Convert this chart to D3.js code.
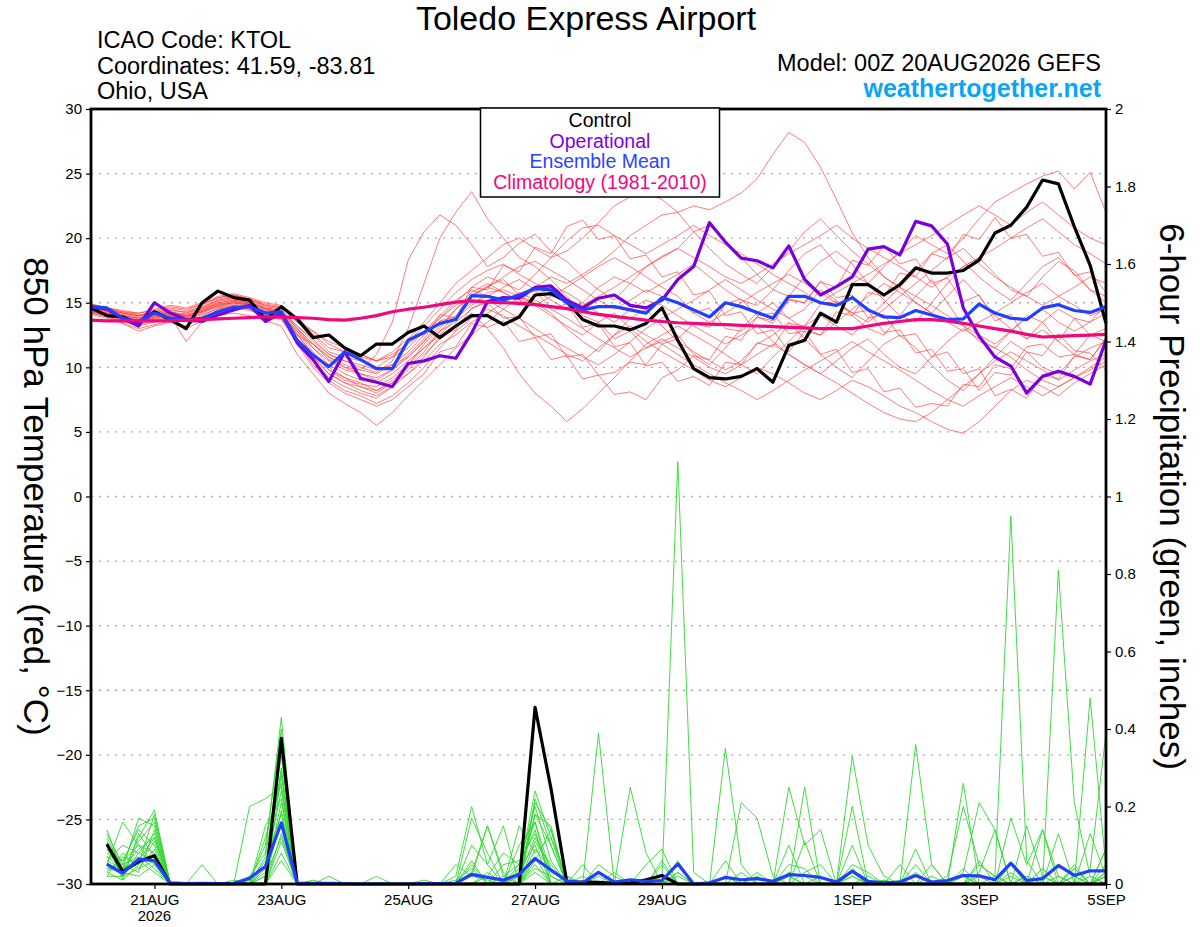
<!DOCTYPE html>
<html lang="en">
<head>
<meta charset="UTF-8">
<title>Toledo Express Airport</title>
<script src="https://d3js.org/d3.v7.min.js"></script>
<style>
  body { margin: 0; background: #fff; }
  svg { display: block; font-family: "Liberation Sans", Arial, sans-serif; }
  .tick text { font-size: 15px; fill: #000; }
</style>
</head>
<body>
<div id="chart"></div>
<script>
// forecast run: 00Z 20AUG2026, 6-hourly steps out to 384 h
const runStart = Date.UTC(2026, 7, 20, 0);
const runEnd = Date.UTC(2026, 8, 5, 0);

const dayTicks = ["2026-08-21", "2026-08-23", "2026-08-25", "2026-08-27", "2026-08-29", "2026-09-01", "2026-09-03", "2026-09-05"];
const dayLabels = ["21AUG", "23AUG", "25AUG", "27AUG", "29AUG", "1SEP", "3SEP", "5SEP"];
const tempTicks = [-30, -25, -20, -15, -10, -5, 0, 5, 10, 15, 20, 25, 30];
const precipTicks = [0, 0.2, 0.4, 0.6, 0.8, 1, 1.2, 1.4, 1.6, 1.8, 2];
const legendNames = ["Control", "Operational", "Ensemble Mean", "Climatology (1981-2010)"];

// 850 hPa temperature (degC), hours 0..384 every 6 h
const controlTemp = [14.6,14.0,13.9,13.4,14.3,13.7,13.0,15.0,15.9,15.4,15.2,13.7,14.7,13.75,12.3,12.5,11.5,10.9,11.8,11.8,12.7,13.2,12.3,13.2,14.0,14.0,13.3,13.9,15.6,15.7,15.1,13.7,13.2,13.2,12.9,13.4,14.6,12.1,9.9,9.2,9.1,9.3,9.9,8.85,11.7,12.1,14.2,13.5,16.4,16.4,15.6,16.4,17.7,17.3,17.3,17.5,18.3,20.4,21.0,22.4,24.5,24.2,20.9,17.9,13.4];
const operTemp = [14.7,14.5,13.8,13.2,15.0,14.2,13.7,13.55,14.05,14.45,14.8,13.55,14.2,11.9,10.6,8.9,11.2,9.15,8.85,8.5,10.3,10.5,10.9,10.7,12.65,15.1,15.4,15.35,16.2,16.3,15.2,14.6,15.35,15.6,14.8,14.6,15.2,16.8,17.8,21.2,19.7,18.45,18.25,17.7,19.4,16.8,15.6,16.25,17.0,19.15,19.35,18.7,21.3,20.95,19.55,14.6,12.4,10.8,10.1,8.0,9.3,9.7,9.3,8.7,12.1];
const meanTemp = [14.7,14.6,13.8,13.55,14.2,13.8,13.7,13.8,14.3,14.65,14.7,14.2,14.3,12.1,10.95,10.05,11.2,10.6,9.9,9.9,12.1,12.7,13.4,13.7,15.55,15.5,15.2,15.6,16.1,16.0,15.0,14.45,14.7,14.7,14.45,14.2,15.4,15.0,14.45,13.9,15.0,14.7,14.25,13.8,15.5,15.5,15.0,14.8,15.4,14.45,13.9,13.85,14.4,14.05,13.7,13.75,14.9,14.2,13.8,13.7,14.6,14.85,14.4,14.25,14.7];
const climoTemp = [13.65,13.6,13.6,13.6,13.6,13.6,13.65,13.7,13.75,13.8,13.85,13.9,13.9,13.85,13.8,13.7,13.65,13.8,14.0,14.3,14.5,14.65,14.85,15.05,15.15,15.05,15.0,14.95,14.85,14.7,14.55,14.3,14.1,13.95,13.8,13.65,13.55,13.45,13.4,13.35,13.3,13.25,13.2,13.15,13.1,13.05,13.0,13.0,13.0,13.2,13.4,13.55,13.7,13.7,13.6,13.4,13.2,13.0,12.8,12.55,12.35,12.4,12.45,12.5,12.55];

// ensemble members, 850 hPa temperature
const memberTemp = [
  [14.8,14.5,14.2,14.0,14.4,14.1,13.8,14.5,15.0,15.2,15.0,14.6,14.4, 13.2,12.0,11.0,10.5,10.0,9.6,10.5,13.0, 16.5,20.0,22.0,23.6,21.5,20.0,18.5,17.8,16.8,15.5,14.0,13.5,12.2,12.8,11.5,12.0, 12.5,11.0,10.2,11.5,13.0,14.2,15.0,13.8,14.5,16.0,15.2,14.0,13.0,12.5,14.0,15.5,16.8,15.0,13.2,12.0,11.5,12.8,14.0,13.5,12.0,11.0,12.5,13.0],
  [14.6,14.3,14.0,13.8,13.9,14.2,14.0,14.3,14.8,15.1,14.9,14.2,14.0, 12.5,11.8,10.6,10.0,9.8,11.0,13.5,18.3, 20.5,21.8,21.0,19.5,17.8,18.5,19.6,20.3,19.0,18.2,17.0,16.0,15.2,16.5,17.8,18.6, 19.2,20.5,21.0,19.8,18.5,17.2,16.0,15.5,17.0,18.2,19.0,18.0,16.5,15.2,14.0,13.5,15.0,16.5,17.8,18.5,17.2,16.0,15.5,17.0,18.2,17.5,16.0,15.0],
  [14.9,14.6,14.3,14.1,13.6,13.9,14.2,14.8,15.4,15.6,15.3,14.8,14.6, 13.8,12.6,11.5,11.2,11.0,10.5,10.8,11.5, 12.8,14.0,15.2,16.0,15.5,16.2,16.8,16.0,15.2,14.5,15.0,16.2,17.0,16.5,15.8,16.5, 17.2,18.0,17.0,16.0,15.2,14.8,16.0,17.5,18.8,19.5,18.0,17.2,16.5,17.8,19.0,20.2,19.5,18.8,20.0,21.5,22.8,23.5,24.2,24.8,25.2,23.8,25.1,22.0],
  [14.4,14.0,13.6,13.2,13.5,13.8,13.5,14.0,14.6,14.8,14.5,14.0,13.8, 12.0,10.5,9.2,8.5,8.0,7.6,8.5,10.2, 11.8,13.0,14.5,15.8,16.5,15.8,15.0,16.2,17.0,16.5,17.2,18.0,19.0,20.2,21.0,21.8, 22.0,22.5,22.2,22.8,23.5,24.6,26.5,28.2,27.4,25.5,23.0,20.4,18.5,17.0,16.2,15.0,14.2,15.5,16.8,15.5,14.0,13.0,12.2,13.5,14.5,13.8,12.5,12.0],
  [14.2,14.0,13.4,12.8,13.2,13.5,13.0,13.6,14.0,14.2,14.0,13.6,13.2, 11.0,9.5,8.0,7.2,6.5,5.5,6.5,7.8, 9.0,10.2,11.5,12.5,13.5,14.5,15.5,15.0,14.2,13.0,12.0,11.2,12.5,13.8,14.5,13.2, 12.0,11.2,10.5,9.8,10.5,11.8,12.5,13.5,12.2,11.0,10.0,9.2,10.5,11.8,12.5,11.5,10.2,9.0,8.2,9.5,10.8,12.0,11.2,10.0,9.5,10.8,11.5,12.0],
  [14.7,14.4,14.2,14.0,14.3,14.6,14.4,14.9,15.3,15.5,15.2,14.7,14.5, 13.0,11.5,10.2,9.5,9.0,8.8,9.5,10.5, 11.5,12.5,13.8,14.8,15.8,16.0,15.5,14.8,14.0,13.2,12.5,13.5,14.2,13.0,12.0,11.2, 10.5,9.8,9.0,8.5,9.2,10.0,9.5,8.8,8.0,7.5,8.2,9.0,8.5,7.8,7.0,6.5,5.8,5.2,4.9,5.8,7.0,8.2,9.0,8.5,7.8,8.8,9.5,10.2],
  [14.5,14.2,13.9,13.7,14.0,14.2,13.9,14.4,14.9,15.0,14.8,14.3,14.1, 12.8,11.2,10.0,9.2,8.5,8.0,8.8,9.8, 11.0,12.2,13.2,14.2,13.0,11.5,9.5,8.0,7.0,5.8,6.8,8.0,9.2,10.5,11.8,12.5, 13.2,12.5,11.8,11.0,10.2,9.5,10.8,12.0,13.2,14.0,13.2,12.5,13.8,15.0,16.2,15.5,14.8,14.0,13.2,12.5,11.8,12.8,13.8,14.5,13.5,12.8,13.5,14.2],
  [14.6,14.4,14.1,13.9,14.2,14.5,14.2,14.6,15.1,15.3,15.0,14.5,14.3, 13.0,11.8,10.8,10.2,9.8,9.5,10.2,11.2, 12.5,13.8,15.0,16.2,17.0,16.5,16.0,17.2,18.5,19.0,20.0,21.2,22.5,23.2,23.5,23.0, 22.0,20.5,19.2,18.0,17.2,16.5,17.8,19.0,20.5,21.5,20.2,19.0,18.0,17.0,16.2,17.5,18.8,19.5,18.2,17.0,16.0,15.2,16.5,17.8,18.5,17.2,16.0,15.5],
  [14.3,14.1,13.8,13.5,13.9,14.0,13.7,14.2,14.7,14.9,14.7,14.2,14.0, 12.2,10.8,9.5,8.8,8.5,8.2,9.0,10.0, 11.2,12.8,14.0,15.0,15.5,15.2,14.8,15.5,16.2,15.8,15.0,14.2,13.5,14.5,15.2,14.8, 14.0,13.2,12.5,11.8,12.5,13.2,12.0,11.0,10.2,9.5,10.5,11.5,12.2,11.0,10.0,9.5,10.8,12.0,13.0,12.2,11.5,10.8,9.8,9.0,8.5,9.2,10.0,10.8],
  [14.8,14.6,14.3,14.2,14.5,14.8,14.6,15.0,15.5,15.7,15.4,15.0,14.8, 13.5,12.5,11.2,10.8,10.5,10.0,10.8,12.0, 13.2,14.5,15.8,16.8,17.5,18.0,17.2,16.5,15.8,15.2,14.8,15.5,16.2,17.0,17.8,18.5, 19.2,18.5,17.8,17.0,16.5,17.2,18.0,18.8,19.5,20.2,21.0,20.0,19.2,18.5,17.8,17.0,16.2,17.0,17.8,18.5,19.2,20.0,20.8,21.5,20.5,19.5,18.8,18.0],
  [14.5,14.2,13.8,13.4,13.7,14.0,13.8,14.3,14.8,15.0,14.8,14.4,14.2, 12.6,11.0,9.8,9.0,8.7,8.5,9.2,10.2, 11.5,12.8,13.5,14.5,15.2,14.5,13.8,13.0,12.2,11.5,10.8,10.2,11.0,12.0,13.0,13.8, 14.5,15.2,16.0,16.8,16.0,15.2,14.5,13.8,13.0,12.5,13.5,14.5,15.5,16.5,15.8,15.0,14.2,13.5,12.8,13.5,14.2,15.0,15.8,16.5,15.5,14.8,14.0,14.5],
  [14.4,14.2,13.9,13.6,13.8,14.1,13.9,14.3,14.7,15.0,14.9,14.5,14.3, 12.5,11.0,9.8,9.2,8.8,8.2,8.8,9.5, 10.5,11.8,12.5,13.5,14.2,15.0,15.8,15.2,14.5,13.8,13.0,12.2,11.5,10.8,11.5,12.2, 11.5,10.8,10.0,9.5,10.2,11.0,11.8,11.0,10.2,9.5,8.8,8.0,7.2,6.5,6.0,5.8,6.5,7.5,8.5,9.5,10.5,11.2,10.5,9.8,9.0,9.8,10.5,11.0],
  [14.6,14.3,14.0,13.8,14.1,14.3,14.1,14.6,15.2,15.4,15.1,14.6,14.4, 13.2,12.2,11.0,10.5,10.2,9.8,10.2,10.8, 12.0,13.2,14.5,15.5,16.2,17.0,17.8,18.2,17.5,16.8,16.0,15.2,14.5,15.2,16.0,15.5, 15.0,14.2,13.5,14.2,15.0,15.8,16.5,17.2,16.5,15.8,15.0,14.2,13.5,14.5,15.5,16.5,17.5,18.5,19.2,18.0,17.0,16.2,15.5,14.8,15.5,16.2,17.0,16.5],
  [14.2,13.9,13.5,13.3,13.6,13.9,13.7,14.1,14.5,14.8,14.6,14.1,13.9, 12.0,10.2,9.0,8.2,7.8,7.2,7.8,8.8, 10.0,11.5,12.8,13.8,14.5,14.0,13.2,12.5,11.8,11.0,10.5,11.5,12.5,13.2,12.5,11.8, 11.0,10.2,9.5,8.8,8.2,7.5,8.2,9.0,9.8,10.5,11.2,12.0,11.2,10.5,9.8,9.0,8.2,7.5,7.0,7.8,8.5,9.2,8.5,7.8,8.5,9.2,9.8,10.5],
  [14.7,14.5,14.2,14.0,14.2,14.4,14.3,14.7,15.2,15.4,15.2,14.8,14.6, 13.5,12.8,12.0,11.5,11.0,10.5,11.2,12.2, 13.5,15.0,16.5,17.5,18.5,19.5,20.0,19.2,18.5,19.8,20.8,21.0,20.2,19.5,18.8,19.5, 20.2,21.0,20.2,19.5,18.8,18.0,17.2,16.5,15.8,15.0,15.8,16.5,17.2,18.0,18.8,19.5,20.2,21.0,21.8,22.5,21.8,21.0,22.0,22.8,21.8,20.8,20.0,19.5],
  [14.3,14.0,13.7,13.6,13.9,14.2,14.0,14.4,14.9,15.1,14.9,14.3,14.1, 12.8,11.5,10.5,9.8,9.5,9.2,9.8,10.8, 12.0,13.6,13.9,15.6,16.3,16.8,15.6,15.9,14.6,14.9,13.1,13.4,11.6,11.9,10.1,10.4, 8.9,9.3,8.6,10.4,10.2,11.9,11.6,13.4,13.2,14.9,15.1,14.2,14.4,12.7,12.9,11.1,11.4,9.7,9.9,8.2,9.6,9.4,11.2,10.9,12.6,11.3,11.1,9.8],
  [14.9,14.6,14.4,14.2,14.4,14.7,14.5,14.9,15.4,15.6,15.3,14.9,14.7, 13.8,12.8,11.8,11.2,10.8,10.5,11.0,11.8, 12.8,13.8,14.8,15.5,16.2,15.8,15.2,14.8,15.5,16.2,17.0,17.8,18.5,17.8,17.0,16.2, 15.5,14.2,14.6,13.0,12.8,13.9,13.4,15.2,15.0,16.6,16.2,18.3,17.9,19.4,18.0,18.4,16.5,16.9,15.1,15.6,13.6,14.1,12.2,12.9,12.0,13.8,13.5,14.9],
  [14.1,13.8,13.4,13.0,13.3,13.6,13.2,13.8,14.3,14.6,14.4,14.0,13.7, 11.8,10.0,8.8,8.0,7.5,7.0,7.5,8.5, 9.5,11.2,11.6,13.4,13.1,13.6,12.0,12.3,10.6,10.9,9.1,9.4,7.9,8.1,7.5,9.2, 9.8,10.9,10.6,12.4,12.1,13.9,13.6,15.3,15.0,16.7,15.4,15.6,13.8,14.1,12.4,12.6,10.8,11.2,9.5,9.9,7.8,8.3,7.6,9.4,9.1,10.9,10.6,12.3],
  [14.6,14.4,14.0,13.8,14.0,14.3,14.0,14.5,15.0,15.2,15.0,14.5,14.2, 13.0,11.8,10.8,10.0,9.5,9.0,9.8,11.0, 12.2,14.1,13.8,16.2,16.0,17.9,17.4,19.3,18.8,20.9,21.4,19.9,20.2,18.4,18.7,17.0, 17.4,15.6,15.9,14.0,14.3,12.6,12.9,11.2,12.8,12.5,14.3,14.0,15.8,15.5,17.3,17.0,18.8,18.4,20.3,19.9,21.6,20.0,20.3,18.6,18.9,17.1,17.4,15.8],
  [14.4,14.1,13.8,13.5,13.8,14.0,12.0,13.5,14.5,14.7,14.5,14.0,13.8, 12.2,10.8,9.5,8.8,8.2,7.8,8.5,9.5, 10.8,12.4,12.9,14.6,15.0,13.8,13.9,12.3,12.6,10.8,11.0,9.4,9.6,10.4,10.2,11.8, 12.2,13.4,13.1,14.9,15.3,14.0,14.2,12.6,12.8,11.0,11.4,9.6,9.9,8.1,8.4,6.9,7.2,7.0,8.7,8.5,10.2,9.9,11.6,11.8,10.8,11.0,10.6,12.2]
];

// 6-hour precipitation (inches), hours 6..384 every 6 h
const controlPrecip = [.103,.032,.058,.073,0,0,0,0,0,0,0,.376,0,0,0,0,0,0,0,0,0,0,0,0,0,0,0,.456,.247,.005,.005,.004,.002,.003,.011,.022,0,0,0,0,0,0,0,0,0,0,0,0,0,0,0,0,0,0,0,0,0,0,0,0,0,0,0,0];
const meanPrecip = [.051,.028,.064,.060,.003,.001,.002,.001,.002,.015,.046,.158,.002,.002,.002,.001,0,0,0,0,.001,.001,.002,.025,.017,.010,.025,.066,.036,.008,.003,.030,.005,.011,.007,.009,.052,0,.003,.017,.011,.014,.007,.024,.022,.017,.005,.033,.007,.003,.005,.022,.005,.009,.022,.021,.011,.054,.009,.014,.048,.022,.034,.034];

const memberPrecip = [
  [.09,.03,.06,.12,0,0,0,0, 0,.02,.08,.43,0,0,0,0, 0,0,0,0,0,0,.02,.20, .05,0,.02,.12,.04,0,0,0, 0,0,0,.01,1.09,.03,0,0, 0,0,0,.02,0,0,0,.10, 0,0,0,0,0,0,0,.05, .02,.95,.06,0,0,.04,0,.02],
  [.05,.16,.10,.08,0,0,0,0, 0,0,.04,.30,0,.01,0,0, 0,0,0,0,0,0,0,.03, .15,.02,0,.22,.10,0,0,.39, 0,0,.05,.09,0,0,0,.35, .05,0,0,0,0,0,0,0, .02,0,0,.05,0,0,.03,.21, .14,0,0,.04,0,0,0,.09],
  [.12,.04,.17,.15,0,0,0,0, 0,.20,.22,.25,0,0,.02,0, 0,0,0,0,0,0,0,0, 0,0,.15,.08,.12,.02,0,0, 0,.25,.08,0,.03,0,0,0, 0,0,0,.25,.10,.14,0,.03, 0,0,0,.36,.05,0,0,0, 0,.17,.05,.14,.02,0,.04,.39],
  [.03,.01,.05,.18,0,0,.05,0, 0,.01,.06,.18,0,0,0,0, 0,0,0,0,.01,0,0,.17, .08,0,0,.18,.15,0,0,.05, .02,0,0,.06,0,0,0,0, .21,.17,.02,0,.25,0,0,.33, .10,.02,0,0,0,0,.26,0, 0,0,0,0,.81,.21,.02,0],
  [.07,.06,.14,.10,0,0,0,0, 0,0,.02,.12,0,0,0,0, 0,0,0,0,0,0,0,0, .02,.08,.05,.20,.06,0,.02,0, 0,0,0,0,.02,0,0,.06, 0,.02,0,.05,.04,0,0,.20, 0,0,0,0,0,.02,.20,.05, .02,0,.15,.02,0,0,.48,.04],
  [.10,.02,.08,.06,0,0,0,0, 0,0,0,.36,0,0,0,0, 0,0,0,0,0,0,.05,.02, .15,.03,0,.06,.14,0,0,0, 0,0,0,0,.06,0,0,0, .03,0,0,.10,0,0,0,0, 0,.01,0,.09,0,0,0,.03, .14,0,0,.14,0,0,.13,.02],
  [.04,.05,.03,.14,0,0,0,0, 0,0,.15,.22,0,0,0,0, 0,0,0,0,0,0,0,.06, 0,0,.10,.16,.03,.01,0,0, 0,0,0,.02,0,0,0,0, 0,.03,0,0,.11,0,0,0, 0,0,.05,0,0,0,0,0, 0,.05,0,0,.13,0,0,.09],
  [.14,.03,.12,.19,0,0,0,0, 0,0,.05,.29,0,0,0,0, 0,0,0,0,0,0,0,.10, .05,.15,0,.09,.04,0,0,0, 0,0,0,0,0,0,0,0, 0,0,0,0,0,.02,0,.05, .03,0,0,0,.05,0,.04,0, 0,0,0,.04,0,.04,0,0],
  [.06,.04,.09,.12,0,0,0,0, 0,0,0,.28,0,0,0,0, 0,0,0,0,0,0,0,0, 0,0,.03,.24,.12,0,.05,0, .03,0,0,.05,0,0,0,.02, 0,0,0,0,0,0,0,0, 0,.01,0,0,0,0,0,.06, 0,0,.02,0,0,.02,0,0],
  [.02,.08,.04,.09,0,0,0,0, 0,0,.03,.16,0,0,0,0, 0,0,0,0,0,0,0,0, .03,0,.05,.14,0,0,0,.02, 0,0,0,0,0,0,0,0, 0,0,0,.03,.02,0,0,0, 0,0,0,0,0,0,0,0, 0,.02,0,0,0,.05,0,.03],
  [.05,.02,.11,.16,0,0,0,0, .01,0,.12,.26,0,0,0,0, 0,0,0,0,0,0,0,0, 0,.05,.06,.13,.02,0,0,0, 0,0,0,0,.03,0,0,0, 0,0,0,0,0,0,0,.02, 0,0,0,.03,0,0,.02,0, 0,.05,0,0,0,0,.02,0],
  [.08,.05,.07,.04,0,0,0,0, 0,0,0,.13,0,0,0,0, 0,.02,0,0,0,0,0,0, 0,0,0,.05,0,0,0,0, 0,0,0,0,0,0,0,0, 0,0,0,0,.03,.05,0,0, 0,0,0,0,0,0,.02,0, 0,0,.02,0,0,0,0,.02],
  [.03,.07,.05,.11,0,0,0,0, 0,0,.04,.24,0,0,0,0, 0,0,0,0,0,0,0,.02, .01,0,0,.11,.05,0,0,0, 0,0,0,0,0,0,0,.02, 0,0,0,0,0,0,0,.03, 0,0,0,0,.02,0,0,0, 0,0,0,0,0,0,0,0],
  [.11,.01,.13,.07,0,0,0,0, 0,0,0,.19,0,0,0,0, 0,0,0,0,0,0,.01,.04, 0,0,.02,.18,.10,0,0,0, 0,0,0,0,0,0,0,0, 0,0,0,0,0,0,0,.02, 0,0,0,0,0,0,0,0, 0,0,0,0,0,0,0,.05],
  [.04,.03,.02,.05,0,0,0,0, 0,0,0,.11,0,0,0,0, 0,0,0,0,0,0,0,0, 0,0,0,.07,0,0,0,0, 0,0,0,0,0,0,0,0, 0,0,0,.02,0,0,0,0, 0,0,0,0,0,0,0,.02, 0,.03,0,0,0,0,0,0],
  [.06,.10,.08,.13,0,0,0,0, 0,0,.07,.33,0,0,0,0, 0,0,0,0,0,0,0,0, 0,.02,.05,.16,0,0,0,0, 0,0,0,0,0,0,0,0, 0,0,0,0,0,0,0,.04, 0,0,0,0,0,0,0,0, 0,0,0,.02,0,0,0,0],
  [.02,.02,.04,.06,0,0,0,0, 0,0,0,.08,0,0,0,0, 0,0,0,0,0,0,0,0, 0,0,0,.04,.02,0,0,0, 0,0,0,0,0,0,0,0, 0,0,0,0,0,0,0,0, 0,0,.01,0,0,0,0,0, 0,0,0,0,0,.02,0,.02],
  [.09,.06,.10,.05,0,0,0,0, 0,0,.02,.21,0,0,0,0, 0,0,0,0,0,0,0,0, 0,0,.04,.10,0,.02,0,0, 0,0,0,0,0,0,0,0, 0,0,0,0,0,0,0,0, 0,0,0,0,0,0,0,0, .02,0,0,0,.02,0,0,0],
  [.07,.04,.06,.03,0,0,0,0, 0,0,0,.06,0,0,0,0, 0,0,0,0,0,0,0,0, 0,0,0,.03,0,0,0,0, 0,0,0,0,0,0,0,0, 0,0,0,0,0,0,0,0, 0,0,0,0,0,0,0,0, 0,0,0,0,0,0,0,0],
  [.13,.05,.15,.17,0,0,0,0, 0,.01,.10,.40,0,0,0,0, 0,0,0,0,0,0,0,.05, 0,0,0,.21,.14,0,0,0, 0,0,0,0,0,0,0,0, 0,0,0,0,0,0,0,0, 0,0,0,0,0,0,0,0, 0,0,0,0,0,0,0,.03]
];

const width = 1200, height = 927;
const plot = { left: 91, right: 1106, top: 109, bottom: 884 };

const svg = d3.select("#chart").append("svg")
    .attr("width", width)
    .attr("height", height);

const x = d3.scaleUtc()
    .domain([new Date(runStart), new Date(runEnd)])
    .range([plot.left, plot.right]);
const yTemp = d3.scaleLinear().domain([-30, 30]).range([plot.bottom, plot.top]);
const yPrecip = d3.scaleLinear().domain([0, 2]).range([plot.bottom, plot.top]);

const hourMs = 3600 * 1000;
const tempLine = d3.line()
    .x((d, i) => x(new Date(runStart + i * 6 * hourMs)))
    .y(d => yTemp(d));
const precipLine = d3.line()
    .x((d, i) => x(new Date(runStart + (i + 1) * 6 * hourMs)))
    .y(d => yPrecip(d));

// dotted grid on the temperature ticks
svg.append("g")
    .selectAll("line")
    .data(tempTicks.filter(t => t > -30 && t < 30))
    .join("line")
    .attr("x1", plot.left)
    .attr("x2", plot.right)
    .attr("y1", d => yTemp(d))
    .attr("y2", d => yTemp(d))
    .attr("stroke", "#aaa")
    .attr("stroke-width", 1.3)
    .attr("stroke-dasharray", "2,6");

// ensemble members
svg.append("g")
    .selectAll("path")
    .data(memberPrecip)
    .join("path")
    .attr("fill", "none")
    .attr("stroke", "#2fd82f")
    .attr("stroke-width", 0.9)
    .attr("d", precipLine);

svg.append("g")
    .selectAll("path")
    .data(memberTemp)
    .join("path")
    .attr("fill", "none")
    .attr("stroke", "#ff3b3b")
    .attr("stroke-opacity", 0.75)
    .attr("stroke-width", 0.9)
    .attr("d", tempLine);

function drawSeries(values, line, color) {
    svg.append("path")
        .datum(values)
        .attr("fill", "none")
        .attr("stroke", color)
        .attr("stroke-width", 3.2)
        .attr("stroke-linejoin", "round")
        .attr("d", line);
}

drawSeries(controlPrecip, precipLine, "#000");
drawSeries(meanPrecip, precipLine, "#2040ff");
drawSeries(controlTemp, tempLine, "#000");
drawSeries(operTemp, tempLine, "#7a00dc");
drawSeries(meanTemp, tempLine, "#2040ff");
drawSeries(climoTemp, tempLine, "#f0087f");

// axes
const leftAxis = svg.append("g")
    .attr("transform", `translate(${plot.left},0)`)
    .call(d3.axisLeft(yTemp).tickValues(tempTicks).tickSize(5).tickSizeOuter(0).tickPadding(4));
const rightAxis = svg.append("g")
    .attr("transform", `translate(${plot.right},0)`)
    .call(d3.axisRight(yPrecip).tickValues(precipTicks).tickFormat(d3.format("~g")).tickSize(5).tickSizeOuter(0).tickPadding(4));
const bottomAxis = svg.append("g")
    .attr("transform", `translate(0,${plot.bottom})`)
    .call(d3.axisBottom(x)
        .tickValues(dayTicks.map(d => new Date(d + "T00:00:00Z")))
        .tickFormat((d, i) => dayLabels[i])
        .tickSize(5).tickSizeOuter(0).tickPadding(5));
[leftAxis, rightAxis, bottomAxis].forEach(a => {
    a.select(".domain").remove();
    a.selectAll(".tick line").attr("stroke", "#000").attr("stroke-width", 1.2);
});

svg.append("text")
    .attr("x", x(new Date(dayTicks[0] + "T00:00:00Z")))
    .attr("y", 921)
    .attr("text-anchor", "middle")
    .style("font-size", "15px")
    .text("2026");

// frame
svg.append("rect")
    .attr("x", plot.left)
    .attr("y", plot.top)
    .attr("width", plot.right - plot.left)
    .attr("height", plot.bottom - plot.top)
    .attr("fill", "none")
    .attr("stroke", "#000")
    .attr("stroke-width", 2.8);

// legend
const legendColors = ["#000", "#8000e0", "#2a44ff", "#f0087f"];
svg.append("rect")
    .attr("x", 480.5)
    .attr("y", 108)
    .attr("width", 239)
    .attr("height", 89)
    .attr("fill", "#fff")
    .attr("stroke", "#000")
    .attr("stroke-width", 1.5);
svg.append("g")
    .selectAll("text")
    .data(legendNames)
    .join("text")
    .attr("x", 600)
    .attr("y", (d, i) => 127 + i * 20.6)
    .attr("text-anchor", "middle")
    .attr("fill", (d, i) => legendColors[i])
    .style("font-size", "19.5px")
    .text(d => d);

// header
svg.append("text")
    .attr("x", 586).attr("y", 30)
    .attr("text-anchor", "middle")
    .style("font-size", "34px")
    .text("Toledo Express Airport");

const headerLeft = ["ICAO Code: KTOL", "Coordinates: 41.59, -83.81", "Ohio, USA"];
svg.append("g")
    .selectAll("text")
    .data(headerLeft)
    .join("text")
    .attr("x", 97)
    .attr("y", (d, i) => 48 + i * 25.5)
    .style("font-size", "23.5px")
    .text(d => d);

svg.append("text")
    .attr("x", 1101).attr("y", 71)
    .attr("text-anchor", "end")
    .style("font-size", "23.5px")
    .text("Model: 00Z 20AUG2026 GEFS");
svg.append("text")
    .attr("x", 1101).attr("y", 97)
    .attr("text-anchor", "end")
    .attr("fill", "#0aa5f5")
    .style("font-size", "25px")
    .style("font-weight", "bold")
    .text("weathertogether.net");

// axis titles (both read top to bottom)
svg.append("text")
    .attr("transform", `translate(24,${(plot.top + plot.bottom) / 2}) rotate(90)`)
    .attr("text-anchor", "middle")
    .style("font-size", "35px")
    .text("850 hPa Temperature (red, °C)");
svg.append("text")
    .attr("transform", `translate(1160,${(plot.top + plot.bottom) / 2}) rotate(90)`)
    .attr("text-anchor", "middle")
    .style("font-size", "35px")
    .text("6-hour Precipitation (green, inches)");
</script>
</body>
</html>
